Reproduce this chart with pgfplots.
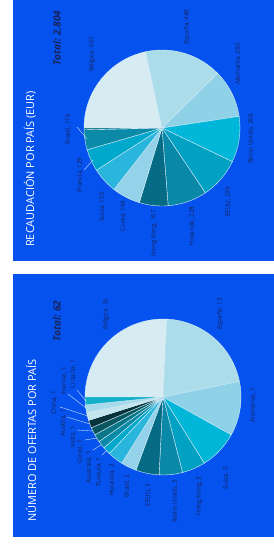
\documentclass[border=0pt]{standalone}
\usepackage{pgfplots}
\pgfplotsset{compat=1.18}
\usepackage{pgfplotstable}
\usepackage{fontspec}
\setmainfont{Open Sans}
\definecolor{bgblue}{RGB}{6,82,238}
\definecolor{lab}{RGB}{22,36,92}
\definecolor{sep}{RGB}{215,238,248}
\definecolor{c1}{RGB}{215,235,243}
\definecolor{c2}{RGB}{170,220,234}
\definecolor{c3}{RGB}{143,209,230}
\definecolor{c4}{RGB}{0,183,217}
\definecolor{c5}{RGB}{0,161,195}
\definecolor{c6}{RGB}{10,136,168}
\definecolor{c7}{RGB}{6,107,133}
\definecolor{c8}{RGB}{147,210,232}
\definecolor{c9}{RGB}{42,182,220}
\definecolor{c10}{RGB}{0,169,204}
\definecolor{c11}{RGB}{10,138,166}
\definecolor{c12}{RGB}{10,118,134}
\definecolor{c13}{RGB}{10,86,96}
\definecolor{c14}{RGB}{7,51,58}
\definecolor{c15}{RGB}{196,228,238}
\definecolor{c16}{RGB}{166,217,233}
\definecolor{c17}{RGB}{18,176,200}

% Recaudacion por pais (EUR)
\pgfplotstableread[col sep=comma]{
name,value,col
Bélgica,607,c1
España,448,c2
Alemania,280,c3
Reino Unido,266,c4
EEUU,239,c5
Holanda,228,c6
Hong Kong,167,c7
Corea,164,c8
Suiza,150,c9
Francia,129,c10
Brasil,116,c11
Otros,10,c12
}\recdata

% Numero de ofertas por pais
\pgfplotstableread[col sep=comma]{
name,value,col
Bélgica,16,c1
España,13,c2
Alemania,7,c3
Suiza,5,c4
Hong Kong,3,c5
Reino Unido,3,c6
EEUU,3,c7
Brasil,2,c8
Holanda,2,c9
Turquía,1,c10
Australia,1,c11
Corea,1,c12
India,1,c13
Austria,1,c14
China,1,c15
Francia,1,c16
Croacia,1,c17
}\ofedata

% #1 table, #2 cx, #3 cy, #4 radius, #5 total
\newcommand\drawpie[5]{%
  \pgfplotstablegetrowsof{#1}%
  \pgfmathtruncatemacro\nrows{\pgfplotsretval-1}%
  \def\curang{180}%
  \pgfplotsforeachungrouped \i in {0,...,\nrows}{%
    \pgfplotstablegetelem{\i}{value}\of{#1}\let\val\pgfplotsretval
    \pgfplotstablegetelem{\i}{col}\of{#1}\let\col\pgfplotsretval
    \pgfmathsetmacro\endang{\curang-(\val/#5)*360}%
    \fill[\col, draw=sep, line width=0.4pt] (axis cs:#2,#3) -- ++(\curang:#4)
      arc[start angle=\curang, end angle=\endang, radius=#4] -- cycle;
    \let\curang\endang
  }%
}

\tikzset{lbl/.style={rotate=90, inner sep=0pt, text=lab, font=\fontsize{6.3}{7}\selectfont},
  ttl/.style={rotate=90, anchor=west, inner sep=0pt, text=white, font=\fontsize{11}{13}\selectfont},
  tot/.style={rotate=90, inner sep=0pt, text=lab, font=\fontsize{10}{11}\selectfont\bfseries\itshape},
  ldr/.style={draw=sep, line width=0.35pt}}

\begin{document}
\begin{tikzpicture}
\begin{axis}[scale only axis, width=274bp, height=548bp,
  xmin=0, xmax=274, ymin=0, ymax=548, y dir=reverse,
  hide axis, clip=false]
\addplot[draw=none] coordinates {(0,0) (274,548)};
\pgfplotsextra{%
  \fill[white] (axis cs:0,0) rectangle (axis cs:274,548);
  \fill[bgblue] (axis cs:13,0) rectangle (axis cs:274,261);
  \fill[bgblue] (axis cs:13,274) rectangle (axis cs:274,537);
  \drawpie{\recdata}{162}{128}{78bp}{2804}
  \drawpie{\ofedata}{163}{397}{78bp}{62}
  % titles
  \node[ttl] at (axis cs:30,247) {RECAUDACIÓN POR PAÍS (EUR)};
  \node[ttl] at (axis cs:31,522) {NÚMERO DE OFERTAS POR PAÍS};
  \node[tot] at (axis cs:57,38) {Total: 2.804};
  \node[tot] at (axis cs:57,321) {Total: 62};
  % labels recaudacion
  \node[lbl] at (axis cs:92,54) {Bélgica, 607};
  \node[lbl] at (axis cs:187,27) {España, 448};
  \node[lbl] at (axis cs:238,64) {Alemania, 280};
  \node[lbl] at (axis cs:251,139) {Reino Unido, 266};
  \node[lbl] at (axis cs:228,202) {EEUU, 239};
  \node[lbl] at (axis cs:192,226) {Holanda, 228};
  \node[lbl] at (axis cs:154,233) {Hong Kong, 167};
  \node[lbl] at (axis cs:123,216) {Corea, 164};
  \node[lbl] at (axis cs:102,207) {Suiza, 150};
  \node[lbl] at (axis cs:80,175) {Francia, 129};
  \node[lbl] at (axis cs:68,129) {Brasil, 116};
  \draw[ldr] (axis cs:77,127) -- (axis cs:87,139);
  \draw[ldr] (axis cs:84,170) -- (axis cs:93,160);
  % labels ofertas
  \node[lbl] at (axis cs:106,314) {Bélgica, 16};
  \node[lbl] at (axis cs:220,314) {España, 13};
  \node[lbl] at (axis cs:253,405) {Alemania, 7};
  \node[lbl] at (axis cs:226,478) {Suiza, 5};
  \node[lbl] at (axis cs:199,496) {Hong Kong, 3};
  \node[lbl] at (axis cs:175,501) {Reino Unido, 3};
  \node[lbl] at (axis cs:148,495) {EEUU, 3};
  \node[lbl] at (axis cs:127,486) {Brasil, 2};
  \node[lbl] at (axis cs:112,480) {Holanda, 2};
  \node[lbl] at (axis cs:99,472) {Turquía, 1};
  \node[lbl] at (axis cs:89,467) {Australia, 1};
  \node[lbl] at (axis cs:80,452) {Corea, 1};
  \node[lbl] at (axis cs:73,437) {India, 1};
  \node[lbl] at (axis cs:63,423) {Austria, 1};
  \node[lbl] at (axis cs:54,403) {China, 1};
  \node[lbl] at (axis cs:64,381) {Francia, 1};
  \node[lbl] at (axis cs:73,374) {Croacia, 1};
  \draw[ldr] (axis cs:77,390) -- (axis cs:86,401);
  \draw[ldr] (axis cs:68,394) -- (axis cs:86,408);
  \draw[ldr] (axis cs:60,407) -- (axis cs:88,416);
  \draw[ldr] (axis cs:67,417) -- (axis cs:90,424);
  \draw[ldr] (axis cs:77,430) -- (axis cs:93,431);
  \draw[ldr] (axis cs:85,440) -- (axis cs:97,438);
  \draw[ldr] (axis cs:93,450) -- (axis cs:101,445);
  \draw[ldr] (axis cs:102,455) -- (axis cs:106,451);
}
\end{axis}
\end{tikzpicture}
\end{document}
